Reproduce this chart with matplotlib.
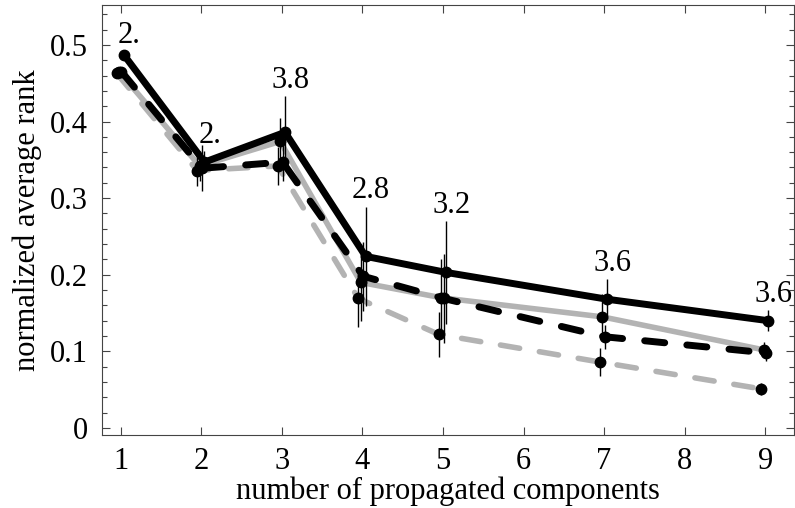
import matplotlib
matplotlib.use("Agg")
import matplotlib.pyplot as plt
from matplotlib.ticker import MultipleLocator, FuncFormatter

plt.rcParams["font.family"] = ["Liberation Serif", "DejaVu Serif"]

# -- data --
x = [1, 2, 3, 4, 5, 7, 9]

black_solid = [0.487, 0.347, 0.386, 0.224, 0.203, 0.168, 0.140]
black_solid_err = [0.004, 0.014, 0.047, 0.065, 0.067, 0.026, 0.014]
black_solid_shift = 0.04

black_dashed = [0.465, 0.339, 0.347, 0.198, 0.169, 0.119, 0.098]
black_dashed_err = [0.005, 0.030, 0.025, 0.045, 0.058, 0.016, 0.010]
black_dashed_shift = 0.01

grey_solid = [0.465, 0.342, 0.374, 0.190, 0.170, 0.145, 0.102]
grey_solid_err = [0.004, 0.020, 0.030, 0.050, 0.050, 0.030, 0.010]
grey_solid_shift = -0.02

grey_dashed = [0.463, 0.336, 0.342, 0.169, 0.122, 0.086, 0.051]
grey_dashed_err = [0.004, 0.020, 0.025, 0.037, 0.029, 0.018, 0.008]
grey_dashed_shift = -0.05

labels = ["2.", "2.", "3.8", "2.8", "3.2", "3.6", "3.6"]

grey = "#b3b3b3"
fs = 22

fig = plt.figure(figsize=(7.95, 5.08), dpi=100)
ax = fig.add_axes([0.128, 0.144, 0.871, 0.846])

series = [
    (grey_dashed, grey_dashed_err, grey_dashed_shift, grey, (0, (3.5, 3.6)), 4.0),
    (grey_solid, grey_solid_err, grey_solid_shift, grey, "-", 4.0),
    (black_dashed, black_dashed_err, black_dashed_shift, "black", (0, (2.9, 3.2)), 5.0),
    (black_solid, black_solid_err, black_solid_shift, "black", "-", 5.0),
]

for ys, es, sh, col, ls, lw in series:
    xs = [v + sh for v in x]
    ax.plot(xs, ys, color=col, linestyle=ls, linewidth=lw,
            dash_capstyle="round", solid_capstyle="round", zorder=2)

for ys, es, sh, col, ls, lw in series:
    xs = [v + sh for v in x]
    ax.errorbar(xs, ys, yerr=es, fmt="o", color="black", ms=7.5,
                elinewidth=1.0, capsize=0, zorder=3)

for xi, yi, ei, lab in zip(x, black_solid, black_solid_err, labels):
    ax.annotate(lab, (xi + black_solid_shift, yi + ei), xytext=(4, 1),
                textcoords="offset points", ha="center", va="bottom", fontsize=fs)

ax.set_xlim(0.765, 9.36)
ax.set_ylim(-0.009, 0.552)
ax.set_xticks(range(1, 10))
ax.yaxis.set_major_locator(MultipleLocator(0.1))
ax.yaxis.set_minor_locator(MultipleLocator(0.02))
ax.yaxis.set_major_formatter(FuncFormatter(lambda v, p: "0" if abs(v) < 1e-9 else f"{v:.1f}"))

ax.tick_params(which="both", direction="in", top=True, right=True,
               labelsize=fs, color="#444444", width=0.8)
ax.tick_params(which="major", length=6)
ax.tick_params(axis="y", which="major", pad=10)
ax.tick_params(axis="x", which="major", pad=9)
ax.tick_params(which="minor", length=3.5)
for s in ax.spines.values():
    s.set_color("#444444")
    s.set_linewidth(0.8)

ax.set_xlabel("number of propagated components", fontsize=fs, labelpad=0)
ax.set_ylabel("normalized average rank", fontsize=fs, labelpad=6)

fig.savefig("out.png", dpi=100)
